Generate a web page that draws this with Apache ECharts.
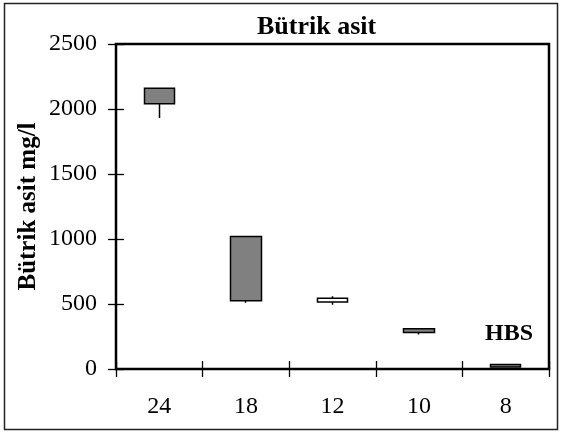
<!DOCTYPE html>
<html>
<head>
<meta charset="utf-8">
<title>Bütrik asit</title>
<script src="https://cdn.jsdelivr.net/npm/echarts@6/dist/echarts.min.js"></script>
<style>
  html, body { margin: 0; padding: 0; background: #fff; }
  #chart { width: 561px; height: 432px; }
</style>
</head>
<body>
<div id="chart"></div>
<script>
// kategoriler (x ekseni)
const categories = ['24', '18', '12', '10', '8']
// kutu alt / üst değerleri ve bıyık uçları (mg/l)
const boxLow = [2040, 525, 515, 280, 15]
const boxHigh = [2160, 1020, 545, 310, 35]
const whiskerLow = [1930, 510, 495, 265, 10]
const whiskerHigh = [2160, 1020, 560, 310, 35]
// beyaz kutu olanlar
const whiteBox = [false, false, true, false, false]
const yTicks = [0, 500, 1000, 1500, 2000, 2500]

const font = "'Liberation Serif', 'Times New Roman', serif"

const data = categories.map((c, i) => {
	let fill = whiteBox[i] ? '#ffffff' : '#808080'
	return {
		value: [boxLow[i], boxHigh[i], whiskerLow[i], whiskerHigh[i]],
		itemStyle: { color: fill, color0: fill }
	}
})

const chart = echarts.init(document.getElementById('chart'))

// eksen çizgisi grid kenarlığından geliyor; çentikler eksenin iki yanına taşsın diye
// eksen 8px içeri kaydırılıp 16px çentik çiziliyor
chart.setOption({
	animation: false,
	title: {
		text: 'Bütrik asit',
		left: 252,
		top: 9,
		textStyle: { fontFamily: font, fontSize: 26, fontWeight: 'bold', color: '#000' }
	},
	grid: {
		left: 116,
		right: 12,
		top: 44,
		bottom: 63,
		show: true,
		borderColor: '#000',
		borderWidth: 2.5
	},
	xAxis: {
		type: 'category',
		data: categories,
		offset: -8,
		axisLine: { show: false },
		axisTick: { show: true, length: 16, lineStyle: { color: '#000', width: 1.3 } },
		axisLabel: { margin: 34, fontFamily: font, fontSize: 24, color: '#000' }
	},
	yAxis: {
		type: 'value',
		min: yTicks[0],
		max: yTicks[yTicks.length - 1],
		interval: 500,
		offset: -8,
		name: 'Bütrik asit mg/l',
		nameLocation: 'middle',
		nameGap: 83,
		nameMoveOverlap: false,
		nameTextStyle: { fontFamily: font, fontSize: 25, fontWeight: 'bold', color: '#000' },
		axisLine: { show: false },
		axisTick: { show: true, length: 16, lineStyle: { color: '#000', width: 1.3 } },
		axisLabel: {
			margin: 27,
			fontFamily: font,
			fontSize: 24,
			color: '#000',
			formatter: (v) => String(v)
		},
		splitLine: { show: false }
	},
	series: [
		{
			type: 'candlestick',
			barWidth: 31,
			itemStyle: {
				color: '#808080',
				color0: '#808080',
				borderColor: '#000',
				borderColor0: '#000',
				borderWidth: 1.5
			},
			data: data
		}
	],
	graphic: [
		{
			type: 'rect',
			shape: { x: 4.5, y: 3.5, width: 553, height: 426 },
			style: { fill: 'none', stroke: '#222', lineWidth: 1.5 },
			silent: true
		},
		{
			type: 'text',
			left: 485,
			top: 322,
			style: { text: 'HBS', fontFamily: font, fontSize: 24, fontWeight: 'bold', fill: '#000' }
		}
	]
})
</script>
</body>
</html>
